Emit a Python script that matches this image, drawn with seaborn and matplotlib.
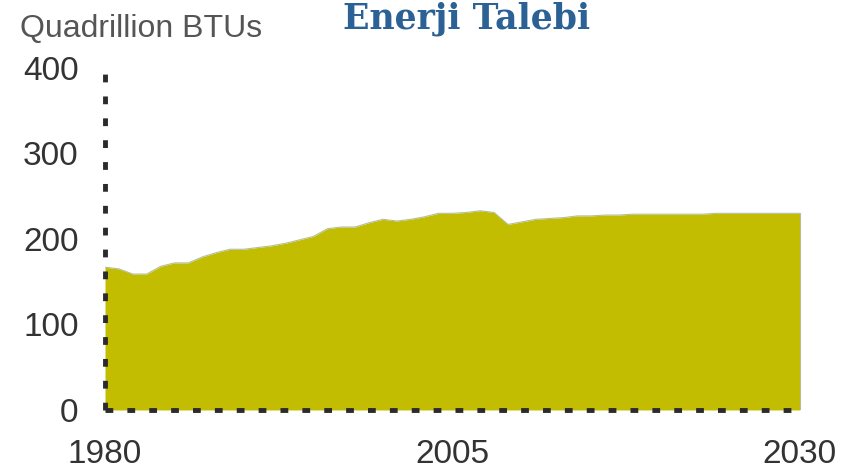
import numpy as np
import pandas as pd
import matplotlib
matplotlib.use("Agg")
import matplotlib.pyplot as plt
import seaborn as sns

# Energy demand, quadrillion BTUs
years = list(range(1980, 2031))
demand = [
    167, 165, 159, 159, 168, 172, 172, 179, 184, 188,
    188, 190, 192, 195, 199, 203, 212, 214, 214, 219,
    223, 221, 223, 226, 230, 230, 231, 233, 231, 217,
    220, 223, 224, 225, 227, 227, 228, 228, 229, 229,
    229, 229, 229, 229, 230, 230, 230, 230, 230, 230,
    230,
]
x_ticks = [1980, 2005, 2030]
y_ticks = [0, 100, 200, 300, 400]

FILL = "#c2bd00"
EDGE = "#b3bf9c"
TEXT = "#333333"

df = pd.DataFrame({"year": years, "demand": demand})

sns.set_style("white")
plt.rcParams["font.family"] = ["Liberation Sans", "DejaVu Sans"]

fig = plt.figure(figsize=(8.51, 4.76), dpi=100)
ax = fig.add_axes([0.1234, 0.1387, 0.8214, 0.7185])

ax.fill_between(df["year"], 0, df["demand"], color=FILL, linewidth=0, zorder=1)
sns.lineplot(data=df, x="year", y="demand", ax=ax, color=EDGE, linewidth=0.8, zorder=2)
ax.plot([years[-1], years[-1]], [0, demand[-1]], color=EDGE, linewidth=0.8, zorder=2)

ax.set_xlim(1980, 2030.3)
ax.set_ylim(0, 400)
ax.set_xticks(x_ticks)
ax.set_yticks(y_ticks)
ax.set_xlabel("")
ax.set_ylabel("")
ax.tick_params(axis="both", length=0, labelsize=24, labelcolor=TEXT)
ax.tick_params(axis="x", pad=21)
ax.tick_params(axis="y", pad=19)

for side in ["top", "right"]:
    ax.spines[side].set_visible(False)
for side in ["left", "bottom"]:
    sp = ax.spines[side]
    sp.set_color("#2b2b2b")
    sp.set_linewidth(3.5)
    sp.set_linestyle((0, (1.6, 2.9)))
    sp.set_capstyle("butt")
    sp.set_zorder(3)
ax.spines["bottom"].set_bounds(1980, 2030.3)
ax.spines["left"].set_bounds(0, 405)

fig.text(20 / 851, 1 - 37 / 476, "Quadrillion BTUs", fontsize=23, color="#555555",
         ha="left", va="baseline")
fig.text(467 / 851, 1 - 28 / 476, "Enerji Talebi", fontsize=25, color="#2b6194",
         fontweight="bold", family=["DejaVu Serif"], ha="center", va="baseline")

fig.savefig("out.png", dpi=100)
